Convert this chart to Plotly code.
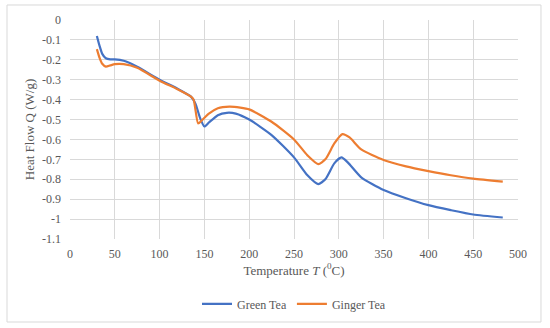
import plotly.graph_objects as go

green_x = [30, 33, 36, 40, 45, 50, 60, 75, 100, 120, 135, 140, 145, 150, 155, 165, 175, 185, 200,
           225, 250, 265, 277, 285, 295, 303, 310, 325, 350, 375, 400, 425, 450, 483]
green_y = [-0.08, -0.13, -0.17, -0.192, -0.198, -0.198, -0.205, -0.235, -0.30, -0.345, -0.385, -0.42,
           -0.49, -0.535, -0.515, -0.478, -0.466, -0.47, -0.50, -0.578, -0.69, -0.78, -0.824,
           -0.80, -0.72, -0.69, -0.715, -0.79, -0.854, -0.895, -0.93, -0.955, -0.977, -0.992]

ginger_x = [30, 33, 36, 40, 45, 50, 60, 75, 100, 120, 135, 138, 143, 147, 155, 165, 178, 190, 200,
            225, 250, 265, 277, 285, 295, 304, 312, 325, 350, 375, 400, 425, 450, 483]
ginger_y = [-0.146, -0.19, -0.22, -0.234, -0.228, -0.222, -0.222, -0.24, -0.305, -0.348, -0.385, -0.40,
            -0.52, -0.505, -0.47, -0.443, -0.435, -0.44, -0.449, -0.511, -0.60, -0.68, -0.724,
            -0.70, -0.62, -0.573, -0.59, -0.65, -0.703, -0.735, -0.759, -0.78, -0.797, -0.812]

x_ticks = [0, 50, 100, 150, 200, 250, 300, 350, 400, 450, 500]
y_ticks = [0, -0.1, -0.2, -0.3, -0.4, -0.5, -0.6, -0.7, -0.8, -0.9, -1, -1.1]

font_family = "Liberation Serif, Times New Roman, serif"
grey = "#595959"

fig = go.Figure()
fig.add_trace(go.Scatter(x=green_x, y=green_y, mode="lines", name="Green Tea",
                         line=dict(color="#4472C4", width=2.2, shape="spline", smoothing=0.6)))
fig.add_trace(go.Scatter(x=ginger_x, y=ginger_y, mode="lines", name="Ginger Tea",
                         line=dict(color="#ED7D31", width=2.2, shape="spline", smoothing=0.6)))

fig.update_layout(
    width=550, height=328,
    margin=dict(l=70, r=32, t=20, b=89, autoexpand=False),
    paper_bgcolor="white", plot_bgcolor="white",
    font=dict(family=font_family, color=grey, size=12),
    showlegend=True,
    legend=dict(orientation="h", x=0.5, xanchor="center", y=-0.23, yanchor="top",
                font=dict(size=12, color=grey), itemwidth=30, tracegroupgap=0),
    xaxis=dict(range=[0, 500], tickvals=x_ticks, ticktext=[str(v) for v in x_ticks],
               showgrid=True, gridcolor="#D9D9D9", gridwidth=1, zeroline=False,
               showline=False, ticks="", ticklabelstandoff=6, automargin=False,
               title=dict(text="Temperature <i>T</i> (<sup>0</sup>C)", font=dict(size=13, color=grey),
                          standoff=5)),
    yaxis=dict(range=[-1.1, 0], tickvals=y_ticks, ticktext=[f"{v:g}" for v in y_ticks],
               showgrid=True, gridcolor="#D9D9D9", gridwidth=1, zeroline=False,
               showline=False, ticks="", ticklabelstandoff=8, automargin=False,
               title=dict(text="Heat Flow Q (W/g)", font=dict(size=13, color=grey), standoff=4)),
    shapes=[dict(type="rect", xref="paper", yref="paper", x0=-0.1406, x1=1.0513,
                 y0=-0.379, y1=1.0685, line=dict(color="#D9D9D9", width=1), layer="below")],
)

fig.write_html("out.html", config={"displayModeBar": False},
               post_script="document.body.style.margin='0';document.body.style.overflow='hidden';")
